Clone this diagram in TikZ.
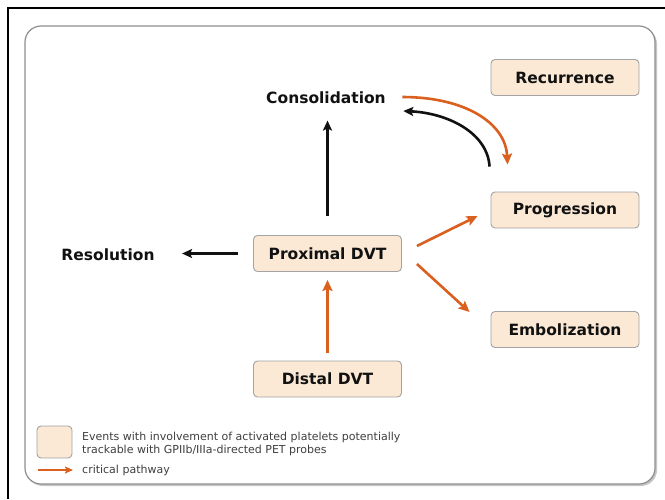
\documentclass[tikz,border=0pt]{standalone}
\usepackage{fontspec}
\setmainfont{DejaVu Sans}
\usepackage{xcolor}
\usepackage{tikz}
\usetikzlibrary{arrows.meta,calc,shadows}
\definecolor{Ink}{HTML}{111111}
\definecolor{Muted}{HTML}{3F3F3F}
\definecolor{Frame}{HTML}{8E8E8E}
\definecolor{Crit}{HTML}{D9601F}
\definecolor{Event}{HTML}{FBE8D5}
\definecolor{EventEdge}{HTML}{A3A3A3}

\begin{document}
\begin{tikzpicture}[x=1pt,y=-1pt,>=Latex,
  event/.style={draw=EventEdge,fill=Event,rounded corners=4pt,line width=0.9pt,
    minimum width=148pt,minimum height=36pt,text=Ink,
    font=\fontsize{15.5}{18}\selectfont\bfseries},
  state/.style={text=Ink,font=\fontsize{15.5}{18}\selectfont\bfseries},
  keytext/.style={text=Muted,align=left,anchor=west,inner sep=0pt,
    font=\fontsize{11}{12.5}\selectfont},
  crit/.style={Crit,line width=2.6pt,-{Stealth[length=11pt,width=10pt,inset=2pt]}},
  plain/.style={Ink,line width=2.6pt,-{Stealth[length=10pt,width=9pt,inset=2pt]}}]
  \useasboundingbox (0,0) rectangle (665,499);
  \draw[black,line width=2.5pt] (8,499) -- (8,8) -- (665,8);
  \draw[Frame,line width=1.2pt,rounded corners=16pt,fill=white,
    drop shadow={shadow xshift=2pt,shadow yshift=-2pt,opacity=0.45}]
    (25,26) rectangle (655,484);
  \node[event] (recur) at (565,77.5) {Recurrence};
  \node[event] (prog) at (565,210) {Progression};
  \node[event] (embo) at (565,329.5) {Embolization};
  \node[event] (prox) at (327.5,253.5) {Proximal DVT};
  \node[event] (dist) at (327.5,379) {Distal DVT};
  \node[state] (consol) at (326,98) {Consolidation};
  \node[state] (resol) at (108,255) {Resolution};
  \draw[plain,shorten <=15pt,shorten >=24pt] (prox.west) -- (prox.west -| resol.east);
  \draw[plain,shorten <=19pt,shorten >=13pt] (prox.north) -- (prox.north |- consol.south);
  \draw[crit,shorten <=8pt,shorten >=8pt] (dist.north) -- (prox.south);
  \draw[crit] ($(prox.east)+(15,-7.5)$) -- ($(prog.west)+(-13,6)$);
  \draw[crit] ($(prox.east)+(15,10.5)$) -- ($(embo.west)+(-21,-17.5)$);
  \draw[crit] ($(consol.east)+(13,-1)$) .. controls +(62,0) and +(-2,-42) .. ($(prog.north west)+(17,-27)$);
  \draw[plain] ($(prog.north west)+(-1,-25)$) .. controls +(-2,-34) and +(44,2) .. ($(consol.east)+(14,13)$);
  \node[event,minimum width=35pt,minimum height=32pt] (key) at (54.5,442) {};
  \node[keytext] (keyevent) at (82,444) {Events with involvement of activated platelets potentially\\trackable with GPIIb/IIIa-directed PET probes};
  \node[keytext] (keycrit) at (82,470) {critical pathway};
  \coordinate (keyarrow) at (38,470);
  \draw[crit,line width=2pt,-{Stealth[length=8pt,width=7pt,inset=1.5pt]},shorten >=9pt] (keyarrow) -- (keycrit.west);
\end{tikzpicture}
\end{document}
